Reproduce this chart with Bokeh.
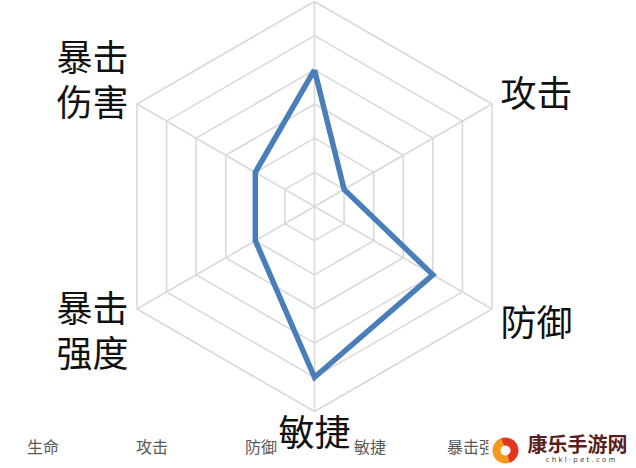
import math
from bokeh.plotting import figure
from bokeh.models import Range1d
from bokeh.core.properties import value
from bokeh.embed import file_html
from bokeh.resources import INLINE

# ---- data ----
categories = ["生命", "攻击", "防御", "敏捷", "暴击强度", "暴击伤害"]
label_lines = [["生命"], ["攻击"], ["防御"], ["敏捷"], ["暴击", "强度"], ["暴击", "伤害"]]
values = [4, 1, 4, 5, 2, 2]
ring_levels = [1, 2, 3, 4, 5, 6]
watermark_title = "康乐手游网"
watermark_sub = "c h k l · p e t . c o m"

# ---- layout (picture pixels) ----
CX, CY = 314.0, 206.0          # radar centre
K = 205.0 / 6                   # pixels per ring unit
W, H = 636, 468
FONT = "Noto Sans CJK SC"

def P(xp, yp):
    """picture pixel -> data units"""
    return (xp - CX) / K, (CY - yp) / K

angles = [math.radians(90 - 60 * i) for i in range(len(categories))]

p = figure(width=W, height=H, output_backend="svg", toolbar_location=None,
           x_range=Range1d(-CX / K, (W - CX) / K),
           y_range=Range1d(-(H - CY) / K, CY / K),
           x_axis_location=None, y_axis_location=None, min_border=0)
p.grid.visible = False
p.outline_line_color = None
p.background_fill_color = "white"
p.border_fill_color = "white"

grid_col = "#d9d9d9"
# rings
rx, ry = [], []
for r in ring_levels:
    rx.append([r * math.cos(a) for a in angles] + [r * math.cos(angles[0])])
    ry.append([r * math.sin(a) for a in angles] + [r * math.sin(angles[0])])
p.multi_line(rx, ry, line_color=grid_col, line_width=1.6)
# spokes
rmax = max(ring_levels)
p.multi_line([[0, rmax * math.cos(a)] for a in angles],
             [[0, rmax * math.sin(a)] for a in angles],
             line_color=grid_col, line_width=1.6)

# data polygon
dx = [v * math.cos(a) for v, a in zip(values, angles)]
dy = [v * math.sin(a) for v, a in zip(values, angles)]
p.line(dx + dx[:1], dy + dy[:1], line_color="#4a7ebb", line_width=5.5, line_join="miter")

# axis labels (picture-pixel centre of each label block); the top one lies above the crop
label_pos = [None, (536, 90), (536, 319), (314, 429), (92, 328), (92, 77)]
line_gap = 45
for lines, pos in zip(label_lines, label_pos):
    if pos is None:
        continue
    lxp, lyp = pos
    n = len(lines)
    for j, t in enumerate(lines):
        yy = lyp + (j - (n - 1) / 2) * line_gap
        x0, y0 = P(lxp, yy)
        p.text([x0], [y0], text=[t], text_font=value(FONT), text_font_size="36px",
               text_color="#111111", text_align="center", text_baseline="middle")

# bottom category row
for i, c in enumerate(categories[:5]):
    x0, y0 = P(42.5 + 109 * i, 445)
    p.text([x0], [y0], text=[c], text_font=value(FONT), text_font_size="16px",
           text_color="#595959", text_align="center", text_baseline="middle")

# watermark
bx0, by0 = P(488, 426)
bx1, by1 = P(636, 468)
p.quad(left=[bx0], right=[bx1], top=[by0], bottom=[by1], fill_color="white", line_color=None)
lx, ly = P(505, 450)
p.annular_wedge([lx], [ly], inner_radius=5, outer_radius=13, inner_radius_units="screen",
                outer_radius_units="screen", start_angle=math.radians(110),
                end_angle=math.radians(290), fill_color="#f29a1f", line_color=None)
p.annular_wedge([lx], [ly], inner_radius=5, outer_radius=13, inner_radius_units="screen",
                outer_radius_units="screen", start_angle=math.radians(-70),
                end_angle=math.radians(110), fill_color="#e2361f", line_color=None)
tx, ty = P(577, 443)
p.text([tx], [ty], text=[watermark_title], text_font=value(FONT), text_font_size="20px",
       text_font_style="bold", text_color="#5a1e1e", text_align="center", text_baseline="middle")
sx, sy = P(580, 459)
p.text([sx], [sy], text=[watermark_sub], text_font=value("DejaVu Sans"), text_font_size="7px",
       text_color="#444444", text_align="center", text_baseline="middle")

open("out.html", "w").write(file_html(p, INLINE))
